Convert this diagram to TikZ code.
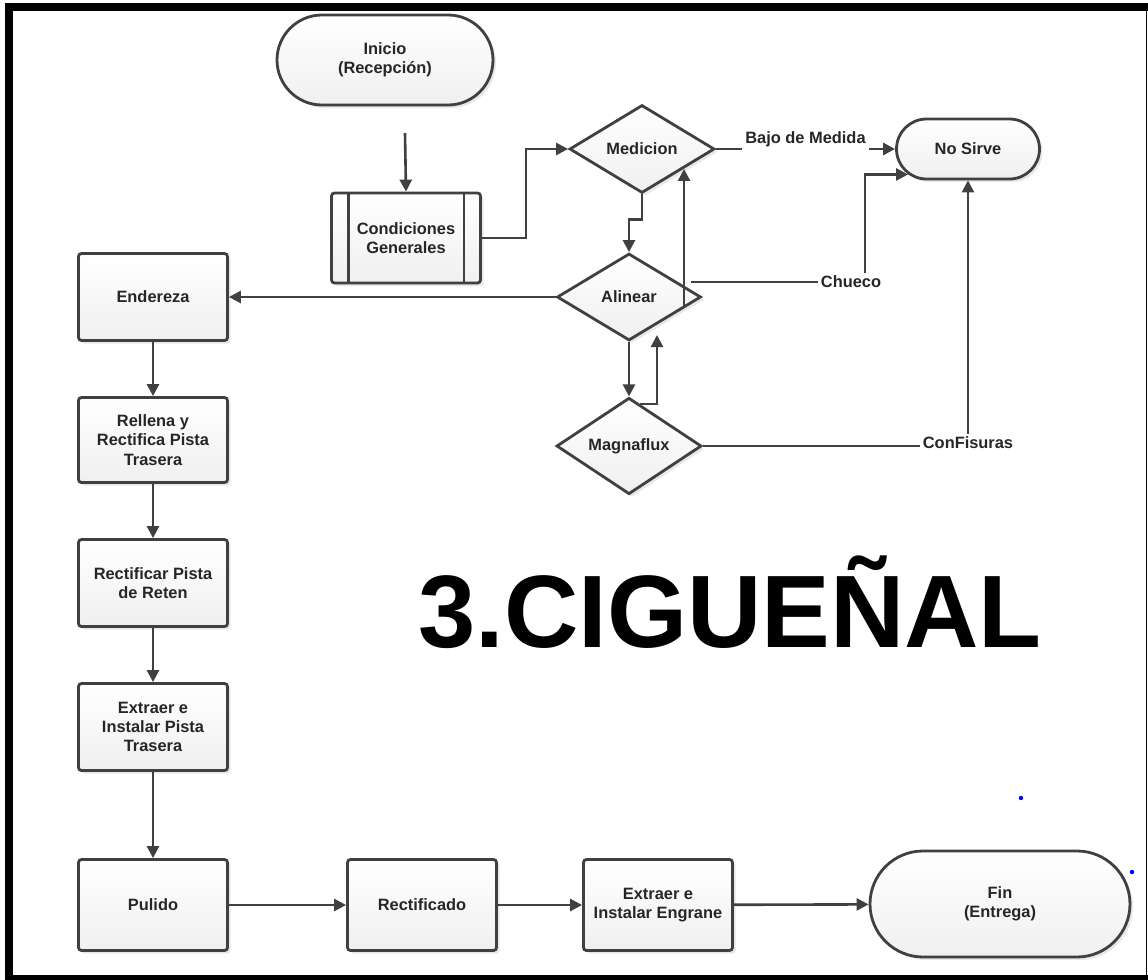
\documentclass[tikz,border=0pt]{standalone}
\usepackage{fontspec}
\setmainfont{Liberation Sans}
\usetikzlibrary{shapes.geometric,shapes.misc,arrows.meta,shadows,calc}

\begin{document}
\begin{tikzpicture}[
    x=0.5pt, y=-0.5pt,
    every node/.style={font=\fontsize{8.2}{9.6}\selectfont\bfseries,
        align=center, text=black!85},
    box/.style={rectangle, draw=black!75, line width=1.4pt, rounded corners=1.5pt,
        top color=white, bottom color=black!6,
        drop shadow={fill=black!30, opacity=0.3, shadow xshift=1.5pt, shadow yshift=-1.5pt},
        minimum width=74.5pt, minimum height=43.5pt, inner sep=2pt},
    term/.style={box, rounded rectangle, sharp corners},
    decision/.style={box, diamond, sharp corners, minimum width=72.5pt,
        minimum height=44pt, inner sep=0pt},
    flow/.style={draw=black!75, line width=1.3pt, -{Triangle[length=6pt,width=6pt]}},
    tag/.style={fill=white, inner sep=1.5pt}
]
    \useasboundingbox (0,0) rectangle (1148,980);
    \fill[black] (5,3) rectangle (1148,11);
    \fill[black] (5,3) rectangle (13,980);
    \fill[black] (5,975) rectangle (1148,980);
    \fill[black] (1145.5,11) rectangle (1147,975);

    \node[term, minimum width=112pt, minimum height=45pt] (inicio) at (385,60) {Inicio\\(Recepción)};
    \node[box, minimum height=45pt] (cond) at (406,238) {Condiciones\\Generales};
    \draw[draw=black!75, line width=1.4pt] ([xshift=9pt]cond.north west) -- ([xshift=9pt]cond.south west)
        ([xshift=-9pt]cond.north east) -- ([xshift=-9pt]cond.south east);
    \node[decision] (medicion) at (642,149) {Medicion};
    \node[term, minimum width=75.5pt, minimum height=30pt] (nosirve) at (968,149) {No Sirve};
    \node[decision, minimum width=72pt, minimum height=43.5pt] (alinear) at (629,297) {Alinear};
    \node[decision] (magna) at (629,446) {Magnaflux};

    \node[box] (endereza) at (153,297) {Endereza};
    \node[box, minimum height=42.5pt] (rellena) at (153,440) {Rellena y\\Rectifica Pista\\Trasera};
    \node[box] (reten) at (153,583) {Rectificar Pista\\de Reten};
    \node[box] (pista) at (153,727) {Extraer e\\Instalar Pista\\Trasera};
    \node[box, minimum height=45.5pt] (pulido) at (153,905) {Pulido};
    \node[box, minimum height=45.5pt] (rectificado) at (422,905) {Rectificado};
    \node[box, minimum height=45.5pt] (engrane) at (658,905) {Extraer e\\Instalar Engrane};
    \node[term, minimum width=134pt, minimum height=53pt] (fin) at (1000,904) {Fin\\(Entrega)};

    \node[anchor=base, text=black, font=\fontsize{51.5}{51.5}\selectfont\bfseries] (titulo) at (730,647) {3.CIGUEÑAL};

    \coordinate (arranque) at (405,133);
    \coordinate (chuecoini) at (691,282);
    \coordinate (regreso) at (657,335);
    \coordinate (alisube) at ($(alinear.east)!0.25!(alinear.south)$);
    \coordinate (medbaja) at ($(medicion.east)!0.44!(medicion.south)$);

    \draw[flow] (arranque) -- (cond.north);
    \draw[flow] (cond.east) -- ++(44,0) |- (medicion.west);
    \draw[flow] (medicion.south) -- ++(0,25) -| (alinear.north);
    \draw[flow] (alinear.south) -- (magna.north);
    \draw[flow] (alisube) -- (alisube |- medbaja);
    \draw[flow] ($(magna.north)!0.15!(magna.east)$) -| (regreso);
    \draw[flow] (alinear.west) -- (endereza.east);
    \draw[flow] (medicion.east) -- node[tag, yshift=5pt] {Bajo de Medida} (nosirve.west);
    \draw[flow] (chuecoini) -- ++(174,0) node[tag, xshift=-7pt] {Chueco} |- (nosirve.203);
    \draw[flow] (magna.east) -| node[tag, yshift=1.5pt] {ConFisuras} (nosirve.south);
    \foreach \a/\b in {endereza/rellena, rellena/reten, reten/pista, pista/pulido,
        pulido/rectificado, rectificado/engrane, engrane/fin}
        \draw[flow] (\a) -- (\b);

    \fill[blue] (1021,798) circle (1.1pt);
    \fill[blue] (1132,872) circle (1.1pt);
\end{tikzpicture}
\end{document}
